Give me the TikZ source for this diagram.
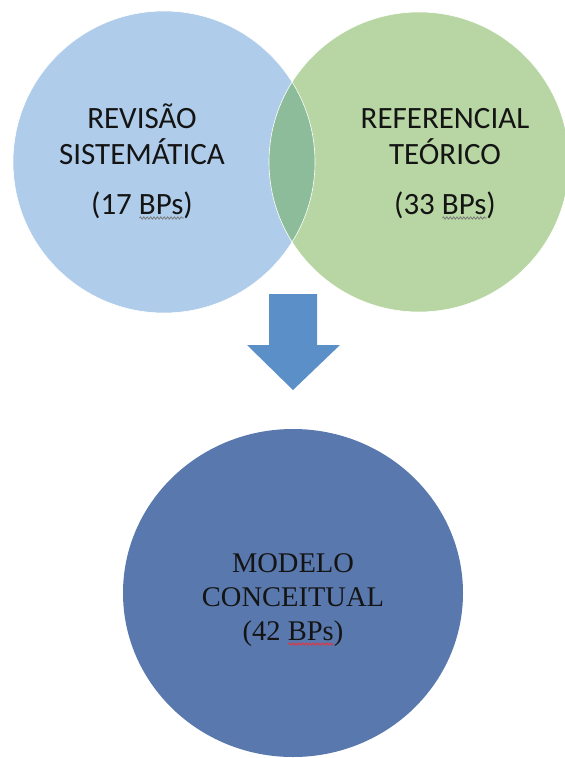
\documentclass[tikz,border=0pt]{standalone}
\usepackage{fontspec}
\setmainfont{Carlito}
\newfontfamily\timesfont{Liberation Serif}
\usetikzlibrary{shapes.geometric,decorations.pathmorphing}
\definecolor{lblue}{HTML}{AFCCEA}
\definecolor{lgreen}{HTML}{B7D6A3}
\definecolor{lensc}{HTML}{8DBC9A}
\definecolor{arrowc}{HTML}{5A90C7}
\definecolor{dblue}{HTML}{5978AD}
\definecolor{wavegray}{HTML}{7A7A7A}
\definecolor{wavered}{HTML}{E8323C}
\definecolor{txt}{HTML}{141414}
\newsavebox{\wavybox}
\newcommand\wavyword[2]{\sbox{\wavybox}{#2}%
  \rlap{\raisebox{-5.5pt}{\tikz{\draw[#1, line width=0.8pt, decorate, decoration={snake, amplitude=1.1pt, segment length=3.4pt}] (0pt,0pt) -- (\wd\wavybox,0pt);}}}%
  \usebox{\wavybox}}
\tikzset{
  vennc/.style={circle, inner sep=0pt, minimum size=#1},
  toptext/.style={anchor=base, inner sep=0pt, font=\fontsize{31}{37}\selectfont, text=txt},
  bottext/.style={anchor=base, inner sep=0pt, font=\timesfont\fontsize{28.5}{34}\selectfont, text=txt},
  rim/.style={draw=white, line width=0.6pt}
}
\begin{document}
\begin{tikzpicture}[x=1pt, y=-1pt]
\useasboundingbox (0,0) rectangle (565,758);
% top circles
\node[vennc=302pt, fill=lblue] (rs) at (164,162) {};
\node[vennc=300pt, fill=lgreen] (rt) at (419,162) {};
\begin{scope}
  \clip (rs.center) circle (151pt);
  \fill[lensc] (rt.center) circle (150pt);
\end{scope}
\draw[rim] (rs.center) circle (151pt);
\draw[rim] (rt.center) circle (150pt);
% texts left
\node[toptext] (rs1) at (142,128) {REVISÃO};
\node[toptext] (rs2) at (142,164) {SISTEMÁTICA};
\node[toptext] (rs3) at (142,214) {(17 \wavyword{wavegray}{BPs})};
% texts right
\node[toptext] (rt1) at (445,128) {REFERENCIAL};
\node[toptext] (rt2) at (445,164) {TEÓRICO};
\node[toptext] (rt3) at (445,214) {(33 \wavyword{wavegray}{BPs})};
% arrow
\fill[arrowc] (269,294) -- (317,294) -- (317,345) -- (340,345) -- (293,390) -- (247,345) -- (269,345) -- cycle;
% bottom circle
\node[ellipse, inner sep=0pt, minimum width=340pt, minimum height=328pt, fill=dblue] (mc) at (293,593) {};
\node[bottext] (mc1) at (293,572) {MODELO};
\node[bottext] (mc2) at (293,606) {CONCEITUAL};
\node[bottext] (mc3) at (293,640) {(42 \wavyword{wavered}{BPs})};
\end{tikzpicture}
\end{document}
